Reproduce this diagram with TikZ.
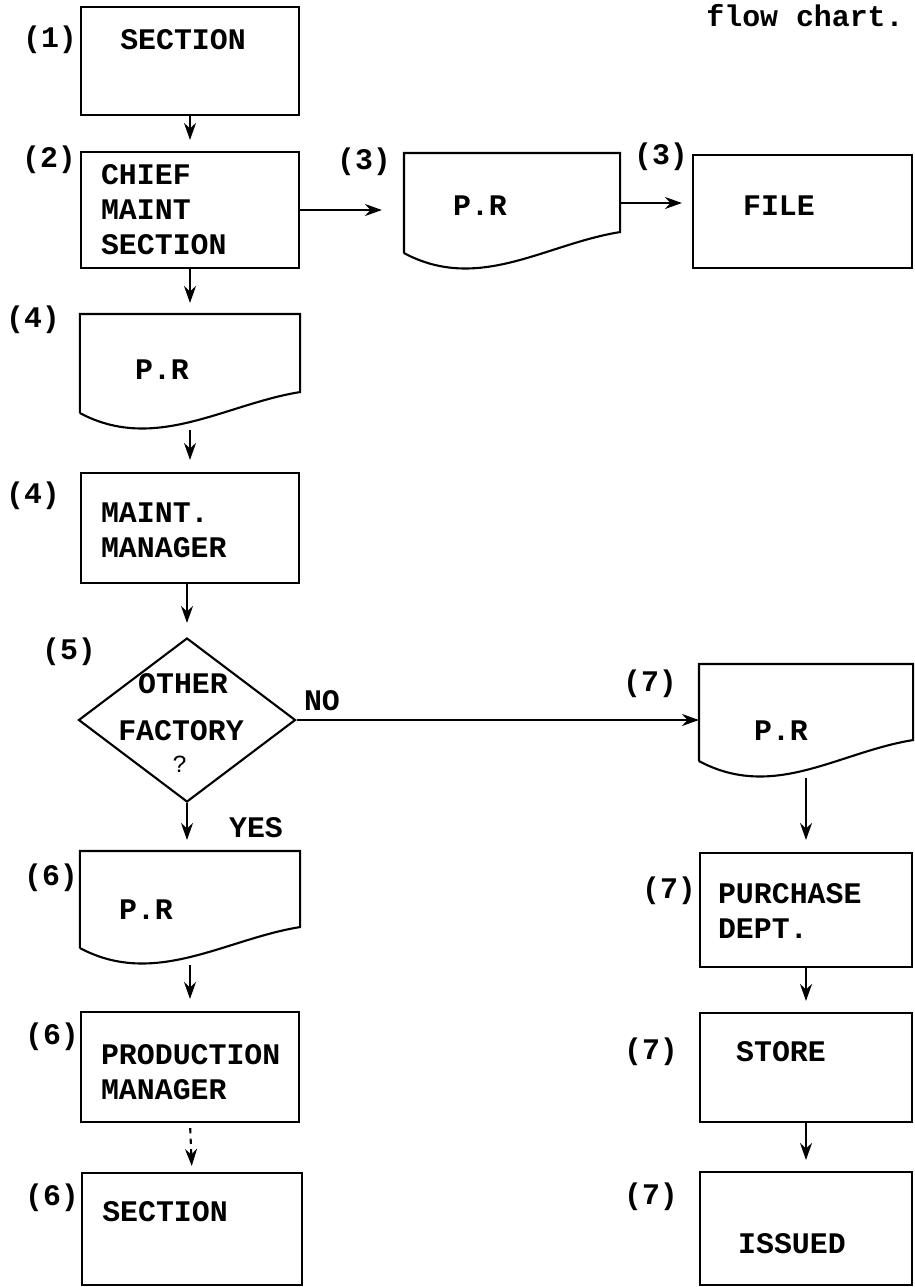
\documentclass[tikz,border=0pt]{standalone}
\usepackage{fontspec}
\setmainfont{Liberation Mono}
\usepackage{tikz}
\usetikzlibrary{arrows.meta,shapes.geometric,calc}

\begin{document}
\begin{tikzpicture}[x=0.2mm,y=-0.2mm,line width=1.2pt,>={Stealth[length=3.4mm,width=2.4mm]},
  every node/.style={font=\fontsize{17}{20}\selectfont\bfseries,inner sep=0pt},
  blk/.style={draw,rectangle,minimum width=43.6mm},
  doc/.style={rectangle,minimum width=43.6mm},
  txt/.style={align=left,anchor=north west}]
  \useasboundingbox (0,0) rectangle (915,1287);
  % boxes, left column
  \node[blk,minimum height=21.6mm] (sec1) at (190,61) {};
  \node[blk,minimum height=23.2mm] (chief) at (190,210) {};
  \node[doc,minimum height=19.4mm] (prB) at (190,363.5) {};
  \node[blk,minimum height=22mm] (mgr) at (190,528) {};
  \node[draw,diamond,minimum width=43.4mm,minimum height=32.8mm] (dia) at (187,720) {};
  \node[doc,minimum height=19mm] (prC) at (190,899.5) {};
  \node[blk,minimum height=22mm] (prod) at (190,1067) {};
  \node[blk,minimum width=44mm,minimum height=22.4mm] (sec2) at (192,1229) {};
  % boxes, top row and right column
  \node[doc,minimum width=42.8mm,minimum height=19.6mm] (prA) at (512,203) {};
  \node[blk,minimum width=43.8mm,minimum height=22.6mm] (file) at (802.5,211.5) {};
  \node[doc,minimum width=42.4mm,minimum height=19mm] (prD) at (806,712.5) {};
  \node[blk,minimum width=42.4mm,minimum height=22.8mm] (purch) at (806,910) {};
  \node[blk,minimum width=42.4mm,minimum height=21.8mm] (store) at (806,1067.5) {};
  \node[blk,minimum width=42.4mm,minimum height=22.6mm] (issued) at (806,1228.5) {};
  \foreach \d in {prA,prB,prC,prD}
    \draw (\d.south west) -- (\d.north west) -- (\d.north east) -- ($(\d.south east)+(0,-21)$)
      .. controls +(-75,12) and +(75,40) .. (\d.south west);
  % texts
  \node (title) at (805,16) {flow chart.};
  \node (l1) at (50,40) {(1)}; \node (t1) at (183,40) {SECTION};
  \node (l2) at (49,160) {(2)}; \node[txt] (t2) at (100,163) {CHIEF\\MAINT\\SECTION};
  \node (l3a) at (364,162) {(3)}; \node (t3a) at (480,206) {P.R};
  \node (l3b) at (661,157) {(3)}; \node (t3b) at (779,206) {FILE};
  \node (l4a) at (33,320) {(4)}; \node (t4a) at (162,370) {P.R};
  \node (l4b) at (33,496) {(4)}; \node[txt] (t4b) at (100,502) {MAINT.\\MANAGER};
  \node (l5) at (69,652) {(5)};
  \node (t5a) at (183,684) {OTHER}; \node (t5b) at (181,731) {FACTORY};
  \node[font=\fontsize{14}{16}\selectfont] (t5c) at (180,764) {?};
  \node (no) at (322,701) {NO}; \node (yes) at (256,828) {YES};
  \node (l6a) at (51,878) {(6)}; \node (t6a) at (146,910) {P.R};
  \node (l6b) at (52,1037) {(6)}; \node[txt] (t6b) at (100,1043) {PRODUCTION\\MANAGER};
  \node (l6c) at (52,1198) {(6)}; \node (t6c) at (165,1212) {SECTION};
  \node (l7a) at (650,684) {(7)}; \node (t7a) at (781,731) {P.R};
  \node (l7b) at (669,891) {(7)}; \node[txt] (t7b) at (717,882) {PURCHASE\\DEPT.};
  \node (l7c) at (651,1052) {(7)}; \node (t7c) at (781,1052) {STORE};
  \node (l7d) at (651,1197) {(7)}; \node (t7d) at (792,1244) {ISSUED};
  % arrows
  \foreach \a/\b in {sec1/chief,chief/prB,purch/store,store/issued}
    \draw[->,shorten >=2.2mm] (\a.south) -- (\b.north);
  \foreach \a/\b in {prB/mgr,prC/prod,prD/purch}
    \draw[->,shorten <=3.4mm,shorten >=2.4mm] (\a.south) -- (\b.north);
  \draw[->,shorten >=2.8mm] (dia.north |- mgr.south) -- (dia.north);
  \draw[->,shorten >=2.2mm] (dia.south) -- (dia.south |- prC.north);
  \draw[->,shorten >=4.4mm] (chief.east) -- (chief.east -| prA.west);
  \draw[->,shorten >=2mm] (prA.east) -- (prA.east -| file.west);
  \draw[->] (dia.east) -- (dia.east -| prD.west);
  \draw[->,dashed,shorten <=1mm,shorten >=1.2mm] (prod.south) -- (sec2.north);
\end{tikzpicture}
\end{document}
